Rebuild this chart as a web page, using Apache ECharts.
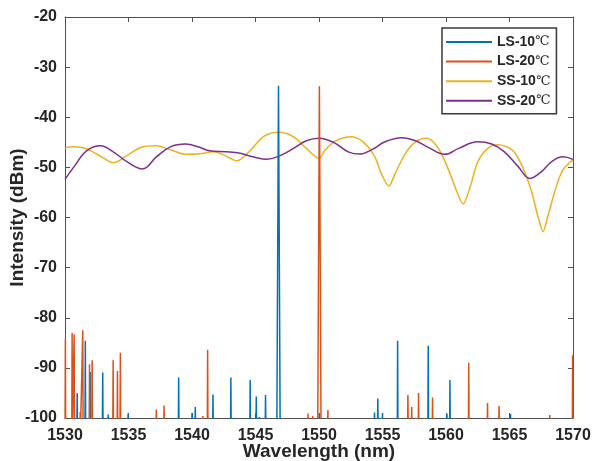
<!DOCTYPE html>
<html>
<head>
<meta charset="utf-8">
<title>Spectra</title>
<script src="https://cdn.jsdelivr.net/npm/echarts@6/dist/echarts.min.js"></script>
<style>
  html, body { margin: 0; padding: 0; background: #ffffff; }
  #chart { width: 594px; height: 461px; }
</style>
</head>
<body>
<div id="chart"></div>
<script>
// Laser-source (LS) spectra: individual emission lines, wavelength in nm and peak power in dBm
const ls10Wavelength = [1530.96, 1531.60, 1532.00, 1532.97, 1533.40, 1534.97, 1538.95, 1540.00, 1540.26,
  1541.65, 1543.06, 1544.58, 1545.06, 1545.30, 1545.79, 1546.81, 1550.03, 1554.37, 1554.63, 1555.00,
  1556.19, 1558.60, 1560.07, 1560.31, 1565.08];
const ls10Peak = [-95.0, -84.6, -90.8, -90.9, -99.3, -99.1, -91.9, -99.0, -97.8,
  -95.3, -91.9, -92.4, -95.7, -99.8, -95.4, -33.7, -99.0, -98.9, -96.1, -99.0,
  -84.6, -85.6, -99.1, -92.4, -99.2];

const ls20Wavelength = [1530.03, 1530.56, 1530.72, 1531.20, 1531.40, 1531.93, 1532.14, 1533.79, 1534.13,
  1534.36, 1537.19, 1537.80, 1540.86, 1541.23, 1549.13, 1549.50, 1550.03, 1550.70, 1557.00, 1557.30,
  1557.84, 1558.94, 1561.79, 1563.27, 1564.18, 1568.17, 1569.97];
const ls20Peak = [-84.2, -83.0, -83.3, -98.8, -82.5, -89.3, -88.5, -88.5, -90.6,
  -87.0, -98.3, -97.5, -99.6, -86.4, -99.1, -99.6, -33.8, -98.4, -95.4, -97.8,
  -95.0, -95.9, -89.0, -97.0, -97.6, -99.4, -87.5];

// Spectrometer noise floor, below the visible range
const noiseFloor = -102;

// Superluminescent-source (SS) spectra
const ss10Wavelength = [1530.0, 1530.7, 1531.7, 1532.8, 1533.8, 1534.9, 1536.0, 1537.2, 1538.3, 1539.5,
  1540.6, 1541.7, 1542.5, 1543.5, 1544.6, 1545.6, 1546.8, 1548.0, 1549.0, 1550.0,
  1550.5, 1551.3, 1552.6, 1553.6, 1554.4, 1554.9, 1555.5, 1556.0, 1556.8, 1557.6,
  1558.5, 1559.4, 1560.2, 1560.8, 1561.35, 1561.9, 1562.5, 1563.3, 1564.1, 1565.2,
  1565.9, 1566.7, 1567.25, 1567.64, 1568.0, 1568.6, 1569.2, 1570.0];
const ss10Power = [-46.1, -45.9, -46.3, -47.8, -49.1, -47.6, -46.0, -45.7, -46.5, -47.4,
  -47.3, -46.9, -47.5, -48.7, -46.6, -43.9, -43.0, -43.9, -46.2, -48.2,
  -46.5, -44.7, -43.9, -45.2, -47.9, -51.2, -53.7, -51.2, -47.2, -44.9,
  -44.2, -46.2, -50.5, -54.5, -57.3, -53.9, -48.9, -46.2, -45.5, -46.5,
  -49.2, -54.5, -59.9, -62.8, -59.9, -54.5, -50.5, -48.5];

const ss20Wavelength = [1530.0, 1530.7, 1531.7, 1532.8, 1533.8, 1534.9, 1536.1, 1537.2, 1538.3, 1539.5,
  1540.6, 1541.4, 1542.7, 1543.8, 1544.8, 1545.9, 1546.9, 1548.0, 1549.0, 1550.0,
  1550.5, 1551.3, 1552.3, 1553.2, 1554.2, 1555.2, 1556.5, 1557.6, 1558.6, 1559.9,
  1561.0, 1562.5, 1563.6, 1564.6, 1565.7, 1566.6, 1567.5, 1568.3, 1569.2, 1570.0];
const ss20Power = [-52.4, -49.9, -46.7, -45.7, -46.9, -48.9, -50.3, -47.9, -45.9, -45.35,
  -46.0, -46.7, -46.9, -47.2, -47.9, -48.4, -47.7, -46.2, -44.7, -44.2,
  -44.4, -45.2, -46.9, -47.35, -46.4, -44.9, -44.1, -44.7, -46.0, -47.4,
  -46.2, -44.9, -45.35, -46.9, -49.9, -52.2, -50.9, -48.9, -47.9, -48.4];

const seriesNames = ['LS-10', 'LS-20', 'SS-10', 'SS-20'];
const seriesColors = ['#0072BD', '#D95319', '#EDB120', '#7E2F8E'];
const unit = '℃';

// Each emission line is drawn as a narrow triangle rising out of the noise floor
function lineShape(wavelengths, peaks) {
  const pts = [];
  wavelengths.forEach((w, i) => {
    const half = peaks[i] > -50 ? 0.13 : 0.025;
    pts.push([w - half, noiseFloor], [w, peaks[i]], [w + half, noiseFloor]);
  });
  pts.sort((a, b) => a[0] - b[0]);
  return pts;
}
const pairs = (xs, ys) => xs.map((x, i) => [x, ys[i]]);

const textColor = '#262626';
const axisColor = '#505050';
const font = '"Liberation Sans", Arial, Helvetica, sans-serif';

const chart = echarts.init(document.getElementById('chart'), null, { renderer: 'canvas' });

const xBase = {
  type: 'value', min: 1530, max: 1570, interval: 5,
  axisLine: { show: true, onZero: false, lineStyle: { color: axisColor, width: 1 } },
  axisTick: { show: true, inside: true, length: 5, lineStyle: { color: axisColor } },
  splitLine: { show: false }
};
const yBase = {
  type: 'value', min: -100, max: -20, interval: 10,
  axisLine: { show: true, onZero: false, lineStyle: { color: axisColor, width: 1 } },
  axisTick: { show: true, inside: true, length: 5, lineStyle: { color: axisColor } },
  splitLine: { show: false }
};

const option = {
  backgroundColor: '#ffffff',
  animation: false,
  grid: { left: 65, right: 21, top: 17, bottom: 43, containLabel: false, outerBoundsMode: 'none' },
  xAxis: [
    Object.assign({}, xBase, {
      position: 'bottom',
      name: 'Wavelength (nm)',
      nameLocation: 'middle',
      nameGap: 24,
      nameMoveOverlap: false,
      nameTextStyle: { fontFamily: font, fontSize: 19, fontWeight: 'bold', color: textColor },
      axisLabel: { show: true, margin: 10, fontFamily: font, fontSize: 16, fontWeight: 'bold', color: textColor,
        formatter: v => String(v) }
    }),
    Object.assign({}, xBase, { position: 'top', axisLabel: { show: false } })
  ],
  yAxis: [
    Object.assign({}, yBase, {
      position: 'left',
      name: 'Intensity (dBm)',
      nameLocation: 'middle',
      nameGap: 38,
      nameMoveOverlap: false,
      nameTextStyle: { fontFamily: font, fontSize: 19, fontWeight: 'bold', color: textColor },
      axisLabel: { show: true, margin: 8, fontFamily: font, fontSize: 16, fontWeight: 'bold', color: textColor,
        formatter: v => String(v) }
    }),
    Object.assign({}, yBase, { position: 'right', axisLabel: { show: false } })
  ],
  legend: {
    orient: 'vertical',
    left: 442, top: 28,
    padding: [6, 6, 5, 4],
    itemGap: 3.6,
    itemWidth: 46, itemHeight: 2,
    icon: 'rect',
    backgroundColor: '#ffffff',
    borderColor: '#3a3a3a', borderWidth: 1.5,
    data: seriesNames,
    formatter: name => '{b|' + name + '}{c|' + unit + '}',
    textStyle: {
      lineHeight: 16,
      rich: {
        b: { fontFamily: font, fontSize: 14, fontWeight: 'bold', color: textColor, lineHeight: 16 },
        c: { fontFamily: '"DejaVu Serif", serif', fontSize: 13, fontWeight: 'normal', color: textColor, lineHeight: 16 }
      }
    }
  },
  series: [
    { name: seriesNames[0], type: 'line', data: lineShape(ls10Wavelength, ls10Peak), symbol: 'none',
      clip: true, z: 4, lineStyle: { color: seriesColors[0], width: 1.5 }, itemStyle: { color: seriesColors[0] } },
    { name: seriesNames[1], type: 'line', data: lineShape(ls20Wavelength, ls20Peak), symbol: 'none',
      clip: true, z: 5, lineStyle: { color: seriesColors[1], width: 1.5 }, itemStyle: { color: seriesColors[1] } },
    { name: seriesNames[2], type: 'line', data: pairs(ss10Wavelength, ss10Power), symbol: 'none', smooth: 0.3,
      clip: true, z: 2, lineStyle: { color: seriesColors[2], width: 1.5 }, itemStyle: { color: seriesColors[2] } },
    { name: seriesNames[3], type: 'line', data: pairs(ss20Wavelength, ss20Power), symbol: 'none', smooth: 0.4,
      clip: true, z: 3, lineStyle: { color: seriesColors[3], width: 1.5 }, itemStyle: { color: seriesColors[3] } }
  ]
};

chart.setOption(option);
</script>
</body>
</html>
